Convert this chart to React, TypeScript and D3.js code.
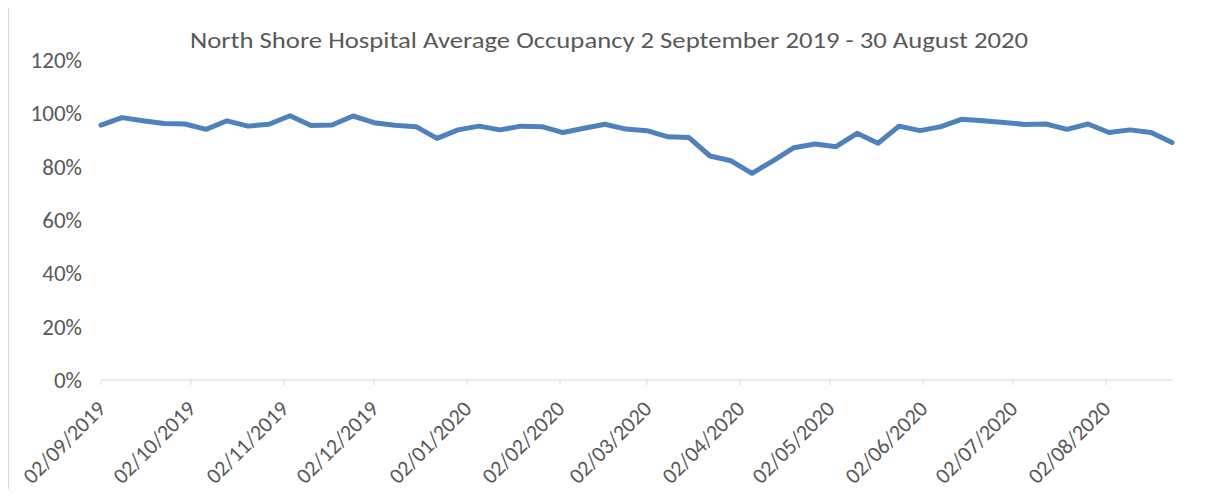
import React, { useEffect, useRef } from "react";
import * as d3 from "d3";

// weekly average occupancy, week starting 02/09/2019
const weekStarts: string[] = [
	"2019-09-02", "2019-09-09", "2019-09-16", "2019-09-23", "2019-09-30", "2019-10-07", "2019-10-14", "2019-10-21",
	"2019-10-28", "2019-11-04", "2019-11-11", "2019-11-18", "2019-11-25", "2019-12-02", "2019-12-09", "2019-12-16",
	"2019-12-23", "2019-12-30", "2020-01-06", "2020-01-13", "2020-01-20", "2020-01-27", "2020-02-03", "2020-02-10",
	"2020-02-17", "2020-02-24", "2020-03-02", "2020-03-09", "2020-03-16", "2020-03-23", "2020-03-30", "2020-04-06",
	"2020-04-13", "2020-04-20", "2020-04-27", "2020-05-04", "2020-05-11", "2020-05-18", "2020-05-25", "2020-06-01",
	"2020-06-08", "2020-06-15", "2020-06-22", "2020-06-29", "2020-07-06", "2020-07-13", "2020-07-20", "2020-07-27",
	"2020-08-03", "2020-08-10", "2020-08-17", "2020-08-24",
];

const occupancy: number[] = [
	95.6, 98.4, 97.2, 96.2, 96.0, 94.0, 97.2, 95.2, 95.9, 99.1, 95.4, 95.6, 99.0, 96.5, 95.5, 95.0,
	90.6, 93.8, 95.2, 93.8, 95.2, 95.0, 92.8, 94.4, 95.9, 94.1, 93.5, 91.2, 90.9, 84.0, 82.2, 77.5,
	82.2, 87.1, 88.5, 87.5, 92.5, 88.8, 95.2, 93.5, 95.0, 97.8, 97.2, 96.6, 95.8, 96.0, 94.0, 96.0,
	92.8, 93.8, 92.8, 89.1,
];

const yTicks: number[] = [0, 20, 40, 60, 80, 100, 120];
const xTickDates: string[] = [
	"2019-09-02", "2019-10-02", "2019-11-02", "2019-12-02", "2020-01-02", "2020-02-02",
	"2020-03-02", "2020-04-02", "2020-05-02", "2020-06-02", "2020-07-02", "2020-08-02",
];

const TITLE = "North Shore Hospital Average Occupancy 2 September 2019 - 30 August 2020";
const FONT = "Carlito, Calibri, 'Liberation Sans Narrow', 'Open Sans', sans-serif";

export default function App() {
	const svgRef = useRef<SVGSVGElement | null>(null);

	useEffect(() => {
		if (!svgRef.current) return;
		const width = 1207;
		const height = 497;
		const margin = { top: 60, right: 35, bottom: 117, left: 101 };

		const parse = d3.utcParse("%Y-%m-%d");
		const dates = weekStarts.map((d) => parse(d)!);
		const data = dates.map((d, i) => ({ date: d, value: occupancy[i] }));

		const x = d3
			.scaleUtc()
			.domain([dates[0], dates[dates.length - 1]])
			.range([margin.left, width - margin.right]);
		const y = d3
			.scaleLinear()
			.domain([0, 120])
			.range([height - margin.bottom, margin.top]);

		const svg = d3.select(svgRef.current);
		svg.selectAll("*").remove();

		// background + frame
		svg.append("rect").attr("width", width).attr("height", height).attr("fill", "#fff");
		svg
			.append("rect")
			.attr("x", 8.5)
			.attr("y", 6.5)
			.attr("width", 1192)
			.attr("height", 500)
			.attr("fill", "none")
			.attr("stroke", "#d9d9d9")
			.attr("stroke-width", 1);

		// title
		svg
			.append("text")
			.attr("x", 609)
			.attr("y", 48)
			.attr("text-anchor", "middle")
			.attr("font-family", FONT)
			.attr("font-size", 23)
			.attr("fill", "#595959")
			.attr("textLength", 838)
			.attr("lengthAdjust", "spacingAndGlyphs")
			.text(TITLE);

		// y axis labels
		svg
			.append("g")
			.selectAll("text")
			.data(yTicks)
			.enter()
			.append("text")
			.attr("x", 82)
			.attr("y", (d) => y(d) + 8)
			.attr("text-anchor", "end")
			.attr("font-family", FONT)
			.attr("font-size", 23)
			.attr("fill", "#595959")
			.text((d) => `${d}%`);

		// x axis line + ticks
		const x0 = y(0);
		svg
			.append("line")
			.attr("x1", margin.left)
			.attr("x2", width - margin.right)
			.attr("y1", x0)
			.attr("y2", x0)
			.attr("stroke", "#d9d9d9")
			.attr("stroke-width", 1);

		const tickDates = xTickDates.map((d) => parse(d)!);
		svg
			.append("g")
			.selectAll("line")
			.data(tickDates)
			.enter()
			.append("line")
			.attr("x1", (d) => x(d))
			.attr("x2", (d) => x(d))
			.attr("y1", x0)
			.attr("y2", x0 + 5)
			.attr("stroke", "#d9d9d9");

		const fmt = d3.utcFormat("%d/%m/%Y");
		svg
			.append("g")
			.selectAll("text")
			.data(tickDates)
			.enter()
			.append("text")
			.attr("transform", (d) => `translate(${x(d) + 6},${x0 + 30}) rotate(-45)`)
			.attr("text-anchor", "end")
			.attr("font-family", FONT)
			.attr("font-size", 22)
			.attr("fill", "#595959")
			.text((d) => fmt(d));

		// line
		const line = d3
			.line<{ date: Date; value: number }>()
			.x((d) => x(d.date))
			.y((d) => y(d.value));

		svg
			.append("path")
			.datum(data)
			.attr("d", line)
			.attr("fill", "none")
			.attr("stroke", "#4f81bd")
			.attr("stroke-width", 5)
			.attr("stroke-linejoin", "round")
			.attr("stroke-linecap", "round");
	}, []);

	return <svg ref={svgRef} width={1207} height={497} style={{ display: "block", margin: -8 }} />;
}
